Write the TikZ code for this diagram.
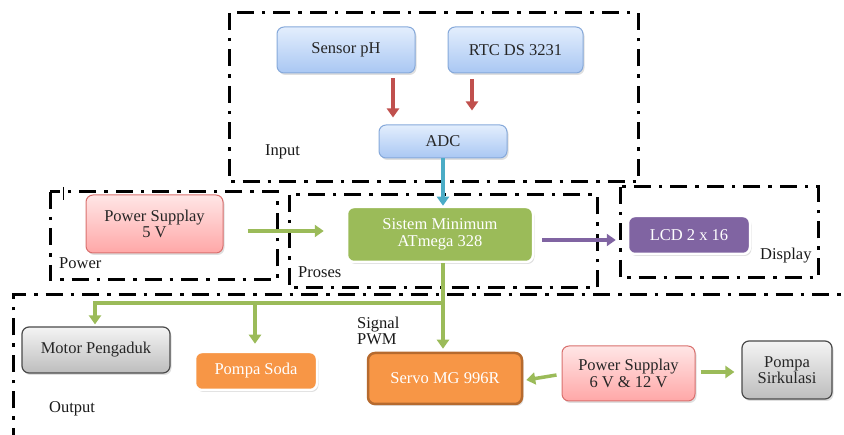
\documentclass[tikz,border=0pt]{standalone}
\usepackage{fontspec}
\setmainfont{Liberation Serif}
\usetikzlibrary{arrows.meta,shadows,calc}
\definecolor{bluetop}{HTML}{E3EEFD}
\definecolor{bluebot}{HTML}{A9C7F3}
\definecolor{blueedge}{HTML}{86A9DA}
\definecolor{pinktop}{HTML}{FFE6E6}
\definecolor{pinkbot}{HTML}{FFA7A7}
\definecolor{pinkedge}{HTML}{D9706E}
\definecolor{graytop}{HTML}{F4F4F4}
\definecolor{graybot}{HTML}{BDBDBD}
\definecolor{grayedge}{HTML}{4A4A4A}
\definecolor{olgreen}{HTML}{9BBB59}
\definecolor{olpurple}{HTML}{8064A2}
\definecolor{olorange}{HTML}{F79646}
\definecolor{olorangedk}{HTML}{B66A2E}
\definecolor{olred}{HTML}{C0504D}
\definecolor{olblue}{HTML}{4BACC6}
\tikzset{
  every node/.style={font=\fontsize{16.5}{18.5}\selectfont, align=center},
  base/.style={rounded corners=7pt, drop shadow={opacity=0.25, shadow xshift=1.5pt, shadow yshift=-2pt}},
  bluebox/.style={base, draw=blueedge, line width=1pt, top color=bluetop, bottom color=bluebot, text=black!85},
  pinkbox/.style={base, draw=pinkedge, line width=1pt, top color=pinktop, bottom color=pinkbot, text=black!85},
  graybox/.style={base, draw=grayedge, line width=1.2pt, top color=graytop, bottom color=graybot, text=black!85},
  greenbox/.style={base, draw=white, line width=2.5pt, fill=olgreen, text=white},
  purplebox/.style={base, draw=white, line width=2.5pt, fill=olpurple, text=white},
  orangebox/.style={base, draw=white, line width=2.5pt, fill=olorange, text=white},
  servobox/.style={base, draw=olorangedk, line width=2.5pt, fill=olorange, text=white},
  group/.style={draw=black, line width=3pt, dash pattern=on 17pt off 8pt on 3.5pt off 8pt},
  arr/.style={line width=3.5pt, -{Triangle[length=9pt,width=12pt]}},
  gline/.style={line width=3.5pt, draw=olgreen},
  lbl/.style={anchor=west, inner sep=0pt, text=black!90}
}
\begin{document}
\begin{tikzpicture}[x=1pt,y=-1pt]
\useasboundingbox (0,0) rectangle (844,435);
\begin{scope}
\clip (0,0) rectangle (844,435);
% group boxes
\draw[group] (229,13) rectangle (638,182);
\draw[group] (50,192) rectangle (277,280);
\draw[group] (289,195) rectangle (597,288);
\draw[group] (620,187) rectangle (818,278);
\draw[group] (13,445) -- (13,295) -- (860,295);
\draw[black, line width=0.7pt] (63,187) -- (63,200);
% nodes
\node[bluebox, minimum width=138, minimum height=46] (sensor) at (346,50) {Sensor pH};
\node[bluebox, minimum width=135, minimum height=46] (rtc) at (515.5,50) {RTC DS 3231};
\node[bluebox, minimum width=128, minimum height=33] (adc) at (443,141.5) {ADC};
\node[pinkbox, minimum width=137, minimum height=58] (ps5) at (154.5,224) {Power Supplay\\[-2pt]5 V};
\node[greenbox, minimum width=186, minimum height=55] (sistem) at (440,234.5) {Sistem Minimum\\[-2pt]ATmega 328};
\node[purplebox, minimum width=122, minimum height=38] (lcd) at (689,235) {LCD 2 x 16};
\node[graybox, minimum width=148, minimum height=46] (motor) at (96,350) {Motor Pengaduk};
\node[orangebox, minimum width=122, minimum height=38] (soda) at (256,371) {Pompa Soda};
\node[servobox, minimum width=154, minimum height=51] (servo) at (445,378.5) {Servo MG 996R};
\node[pinkbox, minimum width=133, minimum height=55] (ps6) at (628.5,373.5) {Power Supplay\\[-2pt]6 V \& 12 V};
\node[graybox, minimum width=90, minimum height=58] (sirk) at (787,370) {Pompa\\[-2pt]Sirkulasi};
% labels
\node[lbl] (linput) at (265,152) {Input};
\node[lbl] (lpower) at (59,263) {Power};
\node[lbl] (lproses) at (298,272) {Proses};
\node[lbl] (ldisplay) at (760,256) {Display};
\node[lbl] (loutput) at (49,409) {Output};
\node[lbl, align=left] (lpwm) at (357,331) {Signal\\[-3pt]PWM};
% arrows
\draw[arr, olred] ([xshift=47pt,yshift=-5pt]sensor.south) -- ([xshift=-50pt,yshift=7pt]adc.north);
\draw[arr, olred] ([xshift=-43.5pt,yshift=-6pt]rtc.south) -- ([xshift=29pt,yshift=14pt]adc.north);
\draw[arr, olblue] (adc.south) -- (adc.south |- sistem.north);
\draw[arr, olgreen] ([xshift=24pt,yshift=-7pt]ps5.east) -- ([xshift=-22pt,yshift=3.5pt]sistem.west);
\draw[arr, olpurple] ([xshift=8pt,yshift=-5.5pt]sistem.east) -- ([xshift=-11pt,yshift=-5pt]lcd.west);
\coordinate (j) at (443,303);
\coordinate (jl) at (95,303);
\coordinate (jm) at (255,303);
\draw[arr, olgreen] ([xshift=3pt]sistem.south) -- ([xshift=-2pt,yshift=3pt]servo.north);
\draw[gline] (j) -- (jl);
\draw[arr, olgreen] ([yshift=1.75pt]jl) -- ([yshift=2pt]jl |- motor.north);
\draw[arr, olgreen] ([yshift=1.75pt]jm) -- ([yshift=7pt]jm |- soda.north);
\draw[arr, olgreen] ([xshift=-5pt,yshift=-1.5pt]ps6.west) -- ([xshift=3pt,yshift=-1.5pt]servo.east);
\draw[arr, olgreen] ([xshift=5pt,yshift=1.5pt]ps6.east) -- ([xshift=-7pt,yshift=-2pt]sirk.west);
\end{scope}
\end{tikzpicture}
\end{document}
